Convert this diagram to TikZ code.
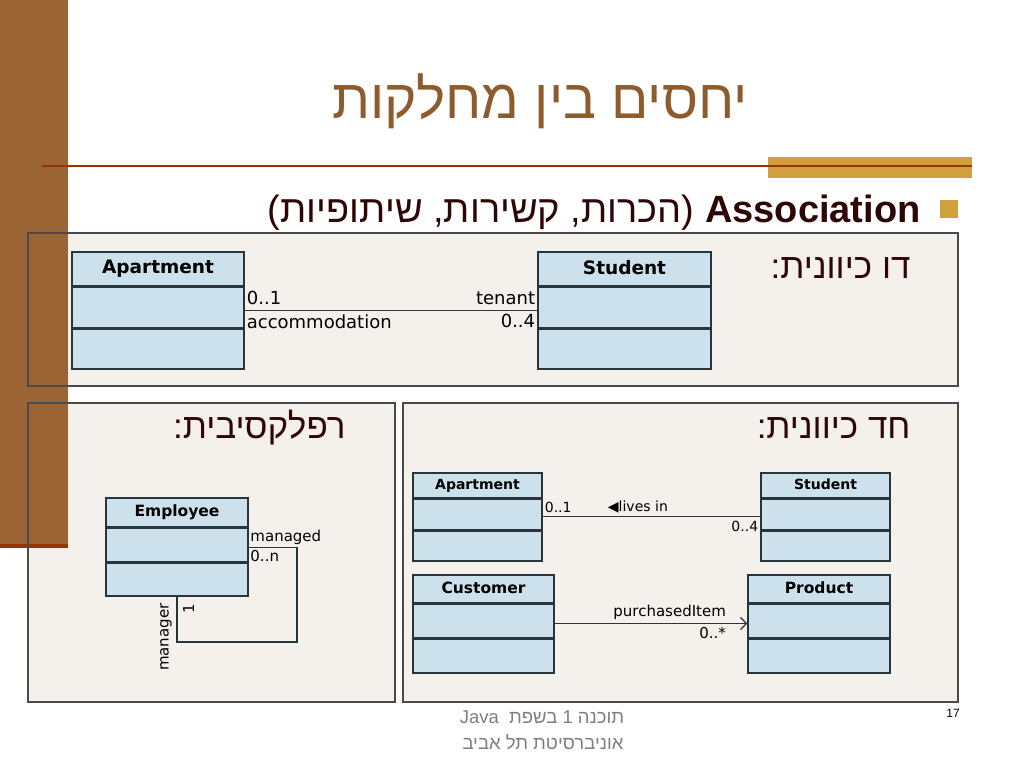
\documentclass[tikz,border=0pt]{standalone}
\usepackage{fontspec}
\usepackage{xcolor}
\usepackage{tikz}
\usetikzlibrary{positioning,arrows.meta}
\setmainfont{Liberation Sans}
\newfontfamily\hebfont[Script=Hebrew]{Liberation Sans}
\newfontfamily\umlfont{DejaVu Sans}
\TeXXeTstate=1
\definecolor{slidebrown}{HTML}{9A6434}
\definecolor{titlebrown}{HTML}{8E5B2C}
\definecolor{rulered}{HTML}{993300}
\definecolor{slidegold}{HTML}{D0A03C}
\definecolor{panelbg}{HTML}{F4F0EC}
\definecolor{panelline}{HTML}{4A4A4A}
\definecolor{classblue}{HTML}{CCE1EC}
\definecolor{classline}{HTML}{28353B}
\definecolor{darktext}{HTML}{2E0606}
\definecolor{footgray}{HTML}{7F7F7F}

\begin{document}
\begin{tikzpicture}[x=1pt, y=-1pt,
    umlhead/.style={draw=classline, fill=classblue, line width=1.5, inner sep=0,
      font=\fontsize{#1}{#1}\selectfont\umlfont\bfseries,
      execute at begin node={\vphantom{Ag}}},
    umlrow/.style={draw=classline, fill=classblue, line width=1.5, inner sep=0},
    assoc/.style={draw=classline, line width=1.2},
    mult/.style={font=\fontsize{#1}{#1}\selectfont\umlfont, inner xsep=1.5, inner ysep=3, text=black},
    panelhead/.style={font=\fontsize{35}{38}\selectfont\hebfont, text=darktext}]
  \useasboundingbox (0,0) rectangle (1024,768);
  \fill[white] (0,0) rectangle (1024,768);

  % panels, the brown side bar, then the panel borders on top
  \foreach \a/\b/\c/\d in {28/233/958/386, 28/403/395/702, 403/403/958/702}
    \fill[panelbg] (\a,\b) rectangle (\c,\d);
  \fill[slidebrown] (0,0) rectangle (68,544);
  \fill[rulered] (0,544) rectangle (68,548);
  \foreach \a/\b/\c/\d in {28/233/958/386, 28/403/395/702, 403/403/958/702}
    \draw[panelline, line width=1.2] (\a,\b) rectangle (\c,\d);

  % title and rule
  \node[font=\fontsize{55}{58}\selectfont\hebfont, text=titlebrown] (title) at (540,101)
    {\beginR יחסים בין מחלקות\endR};
  \fill[slidegold] (768,157) rectangle (972,178);
  \draw[rulered, line width=2] (42,166) -- (972,166);

  % bullet line
  \node[fill=slidegold, minimum size=18, inner sep=0] (bullet) at (949,209) {};
  \node[anchor=base east, font=\fontsize{38}{42}\selectfont\hebfont, text=darktext] (assoctext) at (924,222)
    {\beginR\beginL\textbf{Association}\endL{} (הכרות, קשירות, שיתופיות)\endR};

  \node[panelhead, anchor=east] (twoway) at (914,268) {\beginR דו כיוונית:\endR};
  \node[panelhead, anchor=east] (oneway) at (914,428) {\beginR חד כיוונית:\endR};
  \node[panelhead, anchor=east] (reflex) at (349,428) {\beginR רפלקסיבית:\endR};

  % bidirectional
  \node[umlhead=18.5, minimum width=172, minimum height=34] (apt1h) at (158,269) {Apartment};
  \node[umlrow, minimum width=172, minimum height=40, below=0pt of apt1h] (apt1a) {};
  \node[umlrow, minimum width=172, minimum height=40, below=0pt of apt1a] (apt1o) {};
  \node[umlhead=18.5, minimum width=173, minimum height=34] (stu1h) at (624.5,269) {Student};
  \node[umlrow, minimum width=173, minimum height=40, below=0pt of stu1h] (stu1a) {};
  \node[umlrow, minimum width=173, minimum height=40, below=0pt of stu1a] (stu1o) {};
  \draw[assoc] ([yshift=-3]apt1a.east) -- ([yshift=-3]stu1a.west)
    node[mult=18, pos=0, anchor=south west, inner ysep=5] {0..1}
    node[mult=18, pos=0, anchor=north west, inner ysep=3.5] {accommodation}
    node[mult=18, pos=1, anchor=south east, inner ysep=5] {tenant}
    node[mult=18, pos=1, anchor=north east, inner ysep=3.5] {0..4};

  % unidirectional
  \node[umlhead=14, minimum width=129, minimum height=25] (apt2h) at (477.5,485.5) {Apartment};
  \node[umlrow, minimum width=129, minimum height=30, below=0pt of apt2h] (apt2a) {};
  \node[umlrow, minimum width=129, minimum height=30, below=0pt of apt2a] (apt2o) {};
  \node[umlhead=14, minimum width=129, minimum height=25] (stu2h) at (825.5,485.5) {Student};
  \node[umlrow, minimum width=129, minimum height=30, below=0pt of stu2h] (stu2a) {};
  \node[umlrow, minimum width=129, minimum height=30, below=0pt of stu2a] (stu2o) {};
  \draw[assoc] ([yshift=-2]apt2a.east) -- ([yshift=-2]stu2a.west)
    node[mult=14, pos=0, anchor=south west] {0..1}
    node[mult=14, pos=0.29, anchor=south west] {◀lives in}
    node[mult=14, pos=1, anchor=north east, inner ysep=4] {0..4};

  \node[umlhead=15.5, minimum width=141, minimum height=28] (custh) at (483.5,589) {Customer};
  \node[umlrow, minimum width=141, minimum height=33, below=0pt of custh] (custa) {};
  \node[umlrow, minimum width=141, minimum height=34, below=0pt of custa] (custo) {};
  \node[umlhead=15.5, minimum width=142, minimum height=28] (prodh) at (819,589) {Product};
  \node[umlrow, minimum width=142, minimum height=33, below=0pt of prodh] (proda) {};
  \node[umlrow, minimum width=142, minimum height=34, below=0pt of proda] (prodo) {};
  \draw[assoc, -{Straight Barb[length=6pt, width=12pt]}] ([yshift=-2.5]custa.east) -- ([yshift=-2.5]proda.west)
    node[mult=15, pos=0.9, anchor=south east] {purchasedItem}
    node[mult=15, pos=0.9, anchor=north east] {0..*};

  % reflexive
  \node[umlhead=15.5, minimum width=142, minimum height=29] (emph) at (177,512.5) {Employee};
  \node[umlrow, minimum width=142, minimum height=33, below=0pt of emph] (empa) {};
  \node[umlrow, minimum width=142, minimum height=33, below=0pt of empa] (empo) {};
  \coordinate (loopcorner) at (297,642);
  \draw[assoc] ([yshift=-2.5]empa.east) coordinate (loopstart) -| (loopcorner) -| (empo.south);
  \node[mult=15, anchor=south west] (mgdrole) at (loopstart) {managed};
  \node[mult=15, anchor=north west] (mgdmult) at (loopstart) {0..n};
  \node[mult=15, rotate=90, anchor=south east] (mgrrole) at ([xshift=-2, yshift=-5]empo.south) {manager};
  \node[mult=15, rotate=90, anchor=north east] (mgrmult) at ([xshift=3, yshift=-5]empo.south) {1};

  % footer
  \node[font=\fontsize{18.5}{20}\selectfont\hebfont, text=footgray] (foot1) at (542,717)
    {\beginR תוכנה 1 בשפת\ \ Java\endR};
  \node[font=\fontsize{18.5}{20}\selectfont\hebfont, text=footgray] (foot2) at (543,742)
    {\beginR אוניברסיטת תל אביב\endR};
  \node[font=\fontsize{12}{14}\selectfont] (pageno) at (953,713) {17};
\end{tikzpicture}
\end{document}
